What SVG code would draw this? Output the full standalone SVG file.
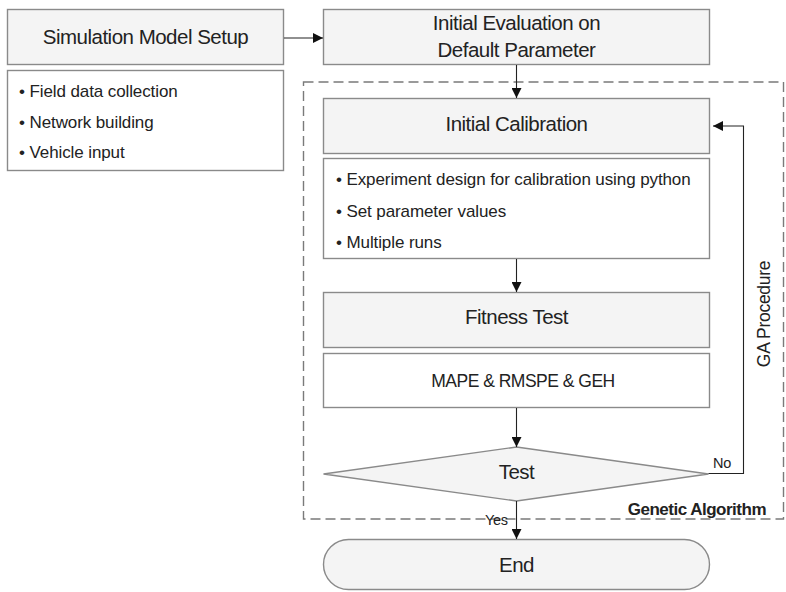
<svg xmlns="http://www.w3.org/2000/svg" width="786" height="592" viewBox="0 0 786 592">
  <style>
    .box { fill: #f4f4f4; stroke: #8a8a8a; stroke-width: 1.4; }
    .list { fill: #ffffff; stroke: #8a8a8a; stroke-width: 1.4; }
    .t { font-family: "Liberation Sans", Arial, sans-serif; fill: #222; }
    .title { font-size: 20.5px; letter-spacing: -0.5px; text-anchor: middle; }
    .item { font-size: 17px; letter-spacing: -0.1px; }
    .small { font-size: 14.5px; letter-spacing: -0.3px; }
    .link { fill: none; stroke: #222; stroke-width: 1.1; }
    .frame { fill: none; stroke: #7a7a7a; stroke-width: 1.4; stroke-dasharray: 10 5; }
  </style>
  <defs>
    <marker id="arrow" viewBox="0 0 10 10" refX="10" refY="5" markerWidth="10" markerHeight="10" markerUnits="userSpaceOnUse" orient="auto">
      <path d="M0,0 L10,5 L0,10 Z" fill="#111"/>
    </marker>
  </defs>

  <rect width="786" height="592" fill="#ffffff"/>

  <!-- Genetic Algorithm frame -->
  <g id="ga-frame">
    <rect class="frame" x="303.5" y="82" width="480" height="437"/>
    <text class="t" x="766" y="515" font-size="17" font-weight="bold" letter-spacing="-0.5" text-anchor="end">Genetic Algorithm</text>
  </g>

  <g id="setup">
    <rect class="box" x="7.5" y="9.5" width="276" height="55"/>
    <text class="t title" x="145.5" y="43.5">Simulation Model Setup</text>
  </g>

  <g id="setup-items">
    <rect class="list" x="7.5" y="70.5" width="276" height="100"/>
    <text class="t item" x="19" y="97">• Field data collection</text>
    <text class="t item" x="19" y="128">• Network building</text>
    <text class="t item" x="19" y="158">• Vehicle input</text>
  </g>

  <g id="initial-evaluation">
    <rect class="box" x="323.5" y="9.5" width="386" height="55"/>
    <text class="t title" x="516.5" y="30">Initial Evaluation on</text>
    <text class="t title" x="516.5" y="56.5">Default Parameter</text>
  </g>

  <g id="initial-calibration">
    <rect class="box" x="323.5" y="98.5" width="386" height="55"/>
    <text class="t title" x="516.5" y="131">Initial Calibration</text>
  </g>

  <g id="calibration-items">
    <rect class="list" x="323.5" y="158.5" width="386" height="100"/>
    <text class="t item" x="336" y="185">• Experiment design for calibration using python</text>
    <text class="t item" x="336" y="217">• Set parameter values</text>
    <text class="t item" x="336" y="248">• Multiple runs</text>
  </g>

  <g id="fitness-test">
    <rect class="box" x="323.5" y="292.5" width="386" height="55"/>
    <text class="t title" x="516.5" y="324">Fitness Test</text>
  </g>

  <g id="measures">
    <rect class="list" x="323.5" y="353.5" width="386" height="54"/>
    <text class="t" x="523" y="387" font-size="17.5" letter-spacing="-0.5" text-anchor="middle">MAPE &amp; RMSPE &amp; GEH</text>
  </g>

  <g id="test">
    <polygon class="box" points="516.5,447 708.5,474 516.5,501 323.5,474"/>
    <text class="t title" x="516.5" y="479">Test</text>
  </g>

  <g id="end">
    <rect class="box" x="323.5" y="539.5" width="386" height="50" rx="25"/>
    <text class="t title" x="516.5" y="572">End</text>
  </g>

  <!-- connectors -->
  <g id="connectors">
    <line class="link" x1="284" y1="38" x2="323" y2="38" marker-end="url(#arrow)"/>
    <line class="link" x1="516.5" y1="65" x2="516.5" y2="98" marker-end="url(#arrow)"/>
    <line class="link" x1="516.5" y1="259" x2="516.5" y2="292" marker-end="url(#arrow)"/>
    <line class="link" x1="516.5" y1="408" x2="516.5" y2="447" marker-end="url(#arrow)"/>
    <line class="link" x1="516.5" y1="501" x2="516.5" y2="539" marker-end="url(#arrow)"/>
    <polyline class="link" points="708.5,473.5 743.5,473.5 743.5,126 713,126" stroke="#444" marker-end="url(#arrow)"/>
    <text class="t small" x="713" y="468">No</text>
    <text class="t small" x="485" y="525" fill="#333">Yes</text>
    <text class="t" x="770" y="314" font-size="17.5" letter-spacing="-0.3" text-anchor="middle" transform="rotate(-90 770 314)">GA Procedure</text>
  </g>
</svg>
